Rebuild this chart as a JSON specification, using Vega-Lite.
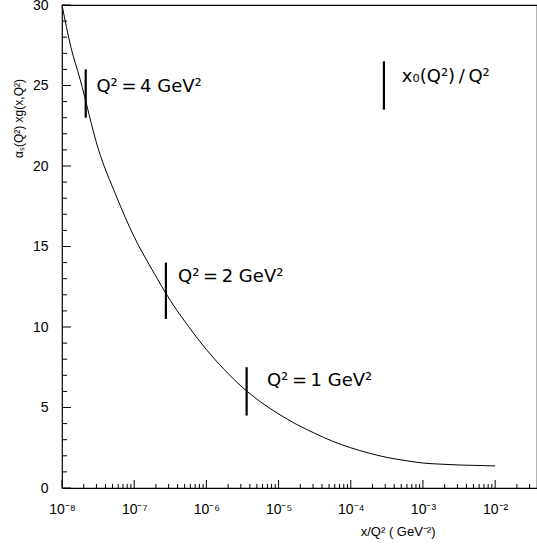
{
  "$schema": "https://vega.github.io/schema/vega-lite/v6.json",
  "width": 475,
  "height": 483,
  "autosize": "none",
  "padding": {"left": 62, "top": 5, "right": 0, "bottom": 58},
  "background": "white",
  "config": {
    "view": {"stroke": "black", "strokeWidth": 1.2},
    "font": "Liberation Sans",
    "axis": {"grid": false, "domain": false, "ticks": false, "labelColor": "black", "titleColor": "black", "titleFontWeight": "normal"}
  },
  "datasets": {
    "curve": [
      {"x": 1e-8, "y": 30.0},
      {"x": 1.334e-8, "y": 27.35},
      {"x": 1.778e-8, "y": 25.4},
      {"x": 3.162e-8, "y": 21.1},
      {"x": 5.623e-8, "y": 18.15},
      {"x": 1e-7, "y": 15.6},
      {"x": 1.778e-7, "y": 13.55},
      {"x": 3.162e-7, "y": 11.65},
      {"x": 5.623e-7, "y": 10.05},
      {"x": 1e-6, "y": 8.6},
      {"x": 1.778e-6, "y": 7.35},
      {"x": 3.162e-6, "y": 6.25},
      {"x": 5.623e-6, "y": 5.35},
      {"x": 1e-5, "y": 4.6},
      {"x": 1.778e-5, "y": 3.95},
      {"x": 3.162e-5, "y": 3.4},
      {"x": 5.623e-5, "y": 2.9},
      {"x": 1e-4, "y": 2.5},
      {"x": 1.778e-4, "y": 2.17},
      {"x": 3.162e-4, "y": 1.9},
      {"x": 5.623e-4, "y": 1.71},
      {"x": 1e-3, "y": 1.55},
      {"x": 1.778e-3, "y": 1.48},
      {"x": 3.162e-3, "y": 1.43},
      {"x": 5.623e-3, "y": 1.4},
      {"x": 1e-2, "y": 1.37}
    ],
    "bars": [
      {"x": 2.13e-8, "y": 26.0, "y2": 23.0},
      {"x": 2.75e-7, "y": 14.0, "y2": 10.5},
      {"x": 3.61e-6, "y": 7.5, "y2": 4.5},
      {"x": 2.88e-4, "y": 26.5, "y2": 23.5}
    ],
    "labels": [
      {"x": 3.0e-8, "y": 24.9, "text": "Q²\u2009=\u20094  GeV²"},
      {"x": 4.05e-7, "y": 13.1, "text": "Q²\u2009=\u20092  GeV²"},
      {"x": 6.9e-6, "y": 6.65, "text": "Q²\u2009=\u20091  GeV²"},
      {"x": 5.1e-4, "y": 25.5, "text": "x₀(Q²)\u2009/\u2009Q²"}
    ],
    "xmajor": [{"v": 1e-8}, {"v": 1e-7}, {"v": 1e-6}, {"v": 1e-5}, {"v": 1e-4}, {"v": 1e-3}, {"v": 1e-2}],
    "xminor": [
      {"v": 2e-8}, {"v": 3e-8}, {"v": 4e-8}, {"v": 5e-8}, {"v": 6e-8}, {"v": 7e-8}, {"v": 8e-8}, {"v": 9e-8},
      {"v": 2e-7}, {"v": 3e-7}, {"v": 4e-7}, {"v": 5e-7}, {"v": 6e-7}, {"v": 7e-7}, {"v": 8e-7}, {"v": 9e-7},
      {"v": 2e-6}, {"v": 3e-6}, {"v": 4e-6}, {"v": 5e-6}, {"v": 6e-6}, {"v": 7e-6}, {"v": 8e-6}, {"v": 9e-6},
      {"v": 2e-5}, {"v": 3e-5}, {"v": 4e-5}, {"v": 5e-5}, {"v": 6e-5}, {"v": 7e-5}, {"v": 8e-5}, {"v": 9e-5},
      {"v": 2e-4}, {"v": 3e-4}, {"v": 4e-4}, {"v": 5e-4}, {"v": 6e-4}, {"v": 7e-4}, {"v": 8e-4}, {"v": 9e-4},
      {"v": 2e-3}, {"v": 3e-3}, {"v": 4e-3}, {"v": 5e-3}, {"v": 6e-3}, {"v": 7e-3}, {"v": 8e-3}, {"v": 9e-3},
      {"v": 2e-2}, {"v": 3e-2}
    ],
    "ymajor": [{"v": 0}, {"v": 5}, {"v": 10}, {"v": 15}, {"v": 20}, {"v": 25}, {"v": 30}],
    "yminor": [
      {"v": 1}, {"v": 2}, {"v": 3}, {"v": 4}, {"v": 6}, {"v": 7}, {"v": 8}, {"v": 9},
      {"v": 11}, {"v": 12}, {"v": 13}, {"v": 14}, {"v": 16}, {"v": 17}, {"v": 18}, {"v": 19},
      {"v": 21}, {"v": 22}, {"v": 23}, {"v": 24}, {"v": 26}, {"v": 27}, {"v": 28}, {"v": 29}
    ]
  },
  "resolve": {"axis": {"x": "independent", "y": "independent"}},
  "layer": [
    {
      "data": {"name": "curve"},
      "mark": {"type": "line", "color": "black", "strokeWidth": 1, "interpolate": "monotone"},
      "encoding": {
        "x": {
          "field": "x",
          "type": "quantitative",
          "scale": {"type": "log", "domain": [1e-8, 0.038], "nice": false},
          "axis": {
            "orient": "bottom",
            "title": "x/Q² ( GeV⁻²)",
            "values": [1e-8, 1e-7, 1e-6, 1e-5, 1e-4, 1e-3, 1e-2],
            "labelExpr": "['10⁻⁸','10⁻⁷','10⁻⁶','10⁻⁵','10⁻⁴','10⁻³','10⁻²'][round(log(datum.value)/LN10)+8]",
            "labelFontSize": 14,
            "labelPadding": 14,
            "labelFlush": false,
            "labelOverlap": false,
            "titleFontSize": 13,
            "titleAlign": "right",
            "titleX": 373,
            "titleY": 37
          }
        },
        "y": {
          "field": "y",
          "type": "quantitative",
          "scale": {"domain": [0, 30], "nice": false},
          "axis": {
            "orient": "left",
            "title": "αₛ(Q²) xg(x,Q²)",
            "values": [0, 5, 10, 15, 20, 25, 30],
            "labelFontSize": 14,
            "labelPadding": 14,
            "labelOverlap": false,
            "labelFlush": false,
            "titleFontSize": 12,
            "titleX": -37,
            "titleY": 113
          }
        }
      }
    },
    {
      "data": {"name": "xmajor"},
      "mark": {"type": "rule", "color": "black", "strokeWidth": 1},
      "encoding": {
        "x": {"field": "v", "type": "quantitative", "axis": null},
        "y": {"datum": 0, "axis": null},
        "y2": {"datum": 0.5}
      }
    },
    {
      "data": {"name": "xminor"},
      "mark": {"type": "rule", "color": "black", "strokeWidth": 1},
      "encoding": {
        "x": {"field": "v", "type": "quantitative", "axis": null},
        "y": {"datum": 0, "axis": null},
        "y2": {"datum": 0.25}
      }
    },
    {
      "data": {"name": "ymajor"},
      "mark": {"type": "rule", "color": "black", "strokeWidth": 1},
      "encoding": {
        "y": {"field": "v", "type": "quantitative", "axis": null},
        "x": {"datum": 1e-8, "axis": null},
        "x2": {"datum": 1.332e-8}
      }
    },
    {
      "data": {"name": "yminor"},
      "mark": {"type": "rule", "color": "black", "strokeWidth": 1},
      "encoding": {
        "y": {"field": "v", "type": "quantitative", "axis": null},
        "x": {"datum": 1e-8, "axis": null},
        "x2": {"datum": 1.173e-8}
      }
    },
    {
      "data": {"name": "bars"},
      "mark": {"type": "rule", "color": "black", "strokeWidth": 2.2},
      "encoding": {
        "x": {"field": "x", "type": "quantitative", "axis": null},
        "y": {"field": "y", "type": "quantitative", "axis": null},
        "y2": {"field": "y2"}
      }
    },
    {
      "data": {"name": "labels"},
      "mark": {"type": "text", "align": "left", "baseline": "middle", "font": "DejaVu Sans", "fontSize": 18, "color": "black"},
      "encoding": {
        "x": {"field": "x", "type": "quantitative", "axis": null},
        "y": {"field": "y", "type": "quantitative", "axis": null},
        "text": {"field": "text"}
      }
    }
  ]
}
